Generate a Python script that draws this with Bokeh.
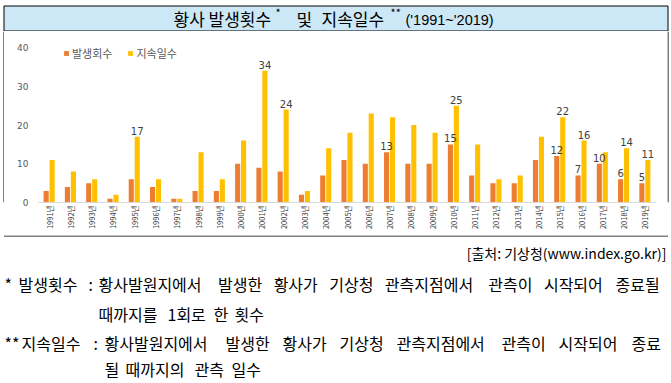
import numpy as np
from bokeh.plotting import figure
from bokeh.models import ColumnDataSource, Range1d, FactorRange, Legend, LegendItem, FixedTicker
from bokeh.layouts import column, row
from bokeh.core.properties import value
from bokeh.transform import dodge
from bokeh.embed import file_html
from bokeh.resources import INLINE

# ---------------- data ----------------
years = ["1991년", "1992년", "1993년", "1994년", "1995년", "1996년", "1997년", "1998년",
         "1999년", "2000년", "2001년", "2002년", "2003년", "2004년", "2005년", "2006년",
         "2007년", "2008년", "2009년", "2010년", "2011년", "2012년", "2013년", "2014년",
         "2015년", "2016년", "2017년", "2018년", "2019년"]
occurrences = [3, 4, 5, 1, 6, 4, 1, 3, 3, 10, 9, 8, 2, 7, 11, 10, 13, 10, 10, 15,
               7, 5, 5, 11, 12, 7, 10, 6, 5]
durations = [11, 8, 6, 2, 17, 6, 1, 13, 6, 16, 34, 24, 3, 14, 18, 23, 22, 20, 18, 25,
             15, 6, 7, 17, 22, 16, 13, 14, 11]
occ_labeled = ["2007년", "2010년", "2015년", "2016년", "2017년", "2018년", "2019년"]
dur_labeled = ["1995년", "2001년", "2002년", "2010년", "2015년", "2016년", "2018년", "2019년"]
y_ticks = [0, 10, 20, 30, 40]
series_names = ["발생회수", "지속일수"]

KR = "Noto Sans CJK KR"
ORANGE = "#ED7D31"
YELLOW = "#FFC000"
W = 671


def blank(w, h):
    p = figure(width=w, height=h, x_range=Range1d(0, w), y_range=Range1d(h, 0),
               x_axis_location=None, y_axis_location=None, min_border=0,
               output_backend="svg", toolbar_location=None)
    p.grid.visible = False
    p.outline_line_color = None
    return p


def txt(p, x, y, s, size, font=KR, align="left", color="black", baseline="middle"):
    p.text(x=[x], y=[y], text=[s], text_font=value(font), text_font_size=size,
           text_align=align, text_baseline=baseline, text_color=color)


# ---------------- title box ----------------
pt = blank(W, 31)
pt.quad(left=[3.5], right=[667.5], top=[5.5], bottom=[30.5],
        fill_color="#CCE8F7", line_color="black", line_width=1)
txt(pt, 173, 18, "황사", "17px")
txt(pt, 208, 18, "발생횟수", "17px")
txt(pt, 275, 11, "*", "11px")
txt(pt, 296, 18, "및", "17px")
txt(pt, 321, 18, "지속일수", "17px")
txt(pt, 390, 11, "**", "11px")
txt(pt, 405, 19, "('1991~'2019)", "14.5px", font="Liberation Sans")

# ---------------- chart ----------------
src = ColumnDataSource(dict(
    year=years, occ=occurrences, dur=durations,
    occ_txt=[str(v) if y in occ_labeled else "" for y, v in zip(years, occurrences)],
    dur_txt=[str(v) if y in dur_labeled else "" for y, v in zip(years, durations)],
))

CH = 204
pc = figure(width=663, height=CH,
            x_range=FactorRange(factors=years, range_padding=0),
            y_range=Range1d(0, 171 / 3.875),
            output_backend="svg", toolbar_location=None,
            min_border_left=34, min_border_right=12, min_border_top=0, min_border_bottom=33)
pc.outline_line_color = None
pc.grid.visible = False

r1 = pc.vbar(x=dodge("year", -0.14, range=pc.x_range), top="occ", width=0.24,
             source=src, fill_color=ORANGE, line_color=None)
r2 = pc.vbar(x=dodge("year", 0.14, range=pc.x_range), top="dur", width=0.24,
             source=src, fill_color=YELLOW, line_color=None)
pc.text(x=dodge("year", -0.14, range=pc.x_range), y="occ", text="occ_txt", source=src,
        text_align="center", text_baseline="alphabetic", y_offset=-6,
        text_font=value("DejaVu Sans"), text_font_size="10px", text_color="#404040")
pc.text(x=dodge("year", 0.14, range=pc.x_range), y="dur", text="dur_txt", source=src,
        text_align="center", text_baseline="alphabetic", y_offset=-6,
        text_font=value("DejaVu Sans"), text_font_size="10px", text_color="#404040")

xa = pc.xaxis[0]
xa.axis_line_color = "#D9D9D9"
xa.major_tick_line_color = None
xa.minor_tick_line_color = None
xa.major_tick_out = 0
xa.major_tick_in = 0
xa.major_label_orientation = np.pi / 2
xa.major_label_text_font = KR
xa.major_label_text_font_size = "7.5px"
xa.major_label_text_color = "#404040"
xa.major_label_standoff = 3

ya = pc.yaxis[0]
ya.ticker = FixedTicker(ticks=y_ticks)
ya.axis_line_color = None
ya.major_tick_line_color = None
ya.minor_tick_line_color = None
ya.major_tick_out = 0
ya.major_tick_in = 0
ya.major_label_text_font = "DejaVu Sans"
ya.major_label_text_font_size = "9px"
ya.major_label_text_color = "#595959"
ya.major_label_standoff = 10

legend = Legend(items=[LegendItem(label=series_names[0], renderers=[r1]),
                       LegendItem(label=series_names[1], renderers=[r2])],
                orientation="horizontal", location=(25, 141),
                label_text_font=KR, label_text_font_size="11px", label_text_color="#595959",
                glyph_width=6, glyph_height=6, label_standoff=3, spacing=15,
                padding=0, margin=0, border_line_color=None, background_fill_alpha=0,
                label_height=12)
pc.add_layout(legend)

pl = blank(4, CH)
pl.segment(x0=[3.5], y0=[0], x1=[3.5], y1=[CH], line_color="black", line_width=1)
pr = blank(4, CH)
pr.segment(x0=[0.5], y0=[0], x1=[0.5], y1=[CH], line_color="black", line_width=1)

# ---------------- notes ----------------
NH = 383 - 31 - CH
pn = blank(W, NH)
pn.segment(x0=[3.5], y0=[0.5], x1=[667.5], y1=[0.5], line_color="black", line_width=1)
txt(pn, 666, 17, "[출처: 기상청(www.index.go.kr)]", "14px", align="right")

FS = 16
words1 = ["황사발원지에서", "발생한", "황사가", "기상청", "관측지점에서", "관측이", "시작되어", "종료될"]
words2 = ["때까지를", "1회로", "한", "횟수"]
words3 = ["황사발원지에서", "발생한", "황사가", "기상청", "관측지점에서", "관측이", "시작되어", "종료"]
words4 = ["될", "때까지의", "관측", "일수"]


def wwidth(w):
    return sum(9 if ch.isdigit() else FS for ch in w)


def justify(words, x0, x1, y):
    total = sum(wwidth(w) for w in words)
    gap = (x1 - x0 - total) / (len(words) - 1)
    x = x0
    for w in words:
        txt(pn, x, y, w, f"{FS}px")
        x += wwidth(w) + gap


def spaced(words, x0, y, gap=5):
    x = x0
    for w in words:
        txt(pn, x, y, w, f"{FS}px")
        x += wwidth(w) + gap


y1, y2, y3, y4 = 48, 78, 107, 133
txt(pn, 4, y1, "*", f"{FS}px")
txt(pn, 18, y1, "발생횟수", f"{FS}px")
txt(pn, 88, y1, ":", f"{FS}px")
justify(words1, 98, 663, y1)
spaced(words2, 98, y2)

txt(pn, 4, y3, "**", f"{FS}px")
txt(pn, 21, y3, "지속일수", f"{FS}px")
txt(pn, 93, y3, ":", f"{FS}px")
justify(words3, 104, 663, y3)
spaced(words4, 104, y4)

layout = column(pt, row(pl, pc, pr), pn)

open("out.html", "w").write(file_html(layout, INLINE))
